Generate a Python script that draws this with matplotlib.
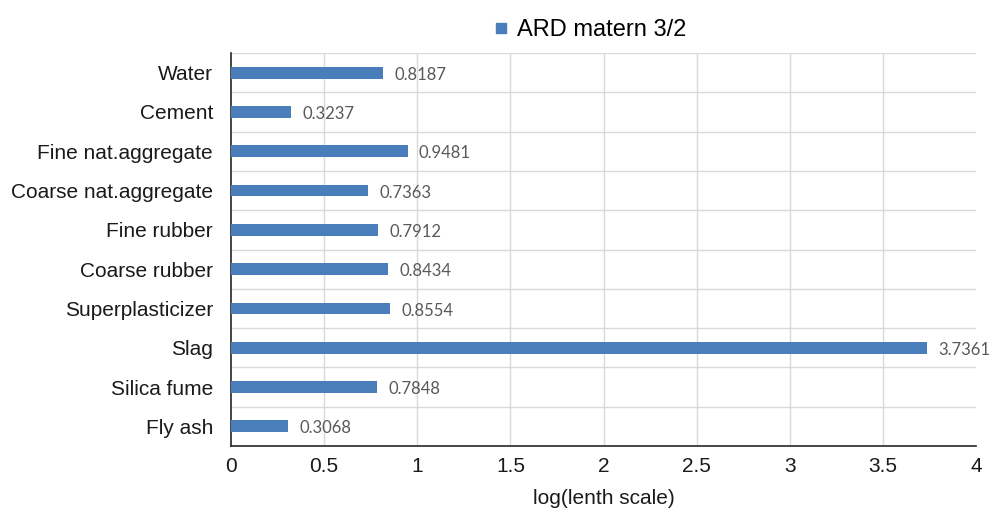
import matplotlib.pyplot as plt
from matplotlib.lines import Line2D

# Data (top to bottom as shown)
categories = ['Water', 'Cement', 'Fine nat.aggregate', 'Coarse nat.aggregate',
              'Fine rubber', 'Coarse rubber', 'Superplasticizer', 'Slag',
              'Silica fume', 'Fly ash']
values = [0.8187, 0.3237, 0.9481, 0.7363, 0.7912, 0.8434, 0.8554, 3.7361,
          0.7848, 0.3068]
value_labels = ['0.8187', '0.3237', '0.9481', '0.7363', '0.7912', '0.8434',
                '0.8554', '3.7361', '0.7848', '0.3068']
xticks = [0, 0.5, 1, 1.5, 2, 2.5, 3, 3.5, 4]
xtick_labels = ['0', '0.5', '1', '1.5', '2', '2.5', '3', '3.5', '4']

bar_color = '#4a7ebb'
plt.rcParams['font.family'] = ['Liberation Sans', 'DejaVu Sans']

fig = plt.figure(figsize=(10, 5.09), dpi=100)
ax = fig.add_axes([0.231, 0.1238, 0.745, 0.772])

n = len(categories)
ypos = list(range(n))
ax.barh(ypos, values, height=0.3, color=bar_color, zorder=3)
for y, v, lab in zip(ypos, values, value_labels):
    ax.annotate(lab, (v, y), xytext=(8, -1.5), textcoords='offset points',
                va='center', ha='left', fontsize=12, color='#595959',
                family=['Lato', 'DejaVu Sans'])

ax.set_ylim(n - 0.5, -0.5)
ax.set_xlim(0, 4)
ax.set_yticks(ypos)
ax.set_yticklabels(categories, fontsize=15, color='#1a1a1a')
ax.set_xticks(xticks)
ax.set_xticklabels(xtick_labels, fontsize=15, color='#1a1a1a')
ax.tick_params(axis='y', length=0, pad=13)
ax.tick_params(axis='x', length=0, pad=8)

# grid: vertical at ticks, horizontal at category boundaries
for x in xticks[1:-1]:
    ax.axvline(x, color='#d9d9d9', lw=1, zorder=1)
for b in range(n):
    ax.axhline(b - 0.5, color='#d9d9d9', lw=1, zorder=1)

for s in ['top', 'right']:
    ax.spines[s].set_visible(False)
ax.spines['left'].set_color('#262626')
ax.spines['bottom'].set_color('#262626')
ax.spines['left'].set_linewidth(1.2)
ax.spines['bottom'].set_linewidth(1.2)

ax.set_xlabel('log(lenth scale)', fontsize=15, labelpad=9, color='#1a1a1a')

handle = Line2D([], [], marker='s', color=bar_color, linestyle='none',
                markersize=7)
fig.legend([handle], ['ARD matern 3/2'], loc='center',
           bbox_to_anchor=(0.582, 0.941), frameon=False, fontsize=17,
           handletextpad=-0.3, borderaxespad=0)

plt.savefig('out.png', dpi=100)
plt.close()
